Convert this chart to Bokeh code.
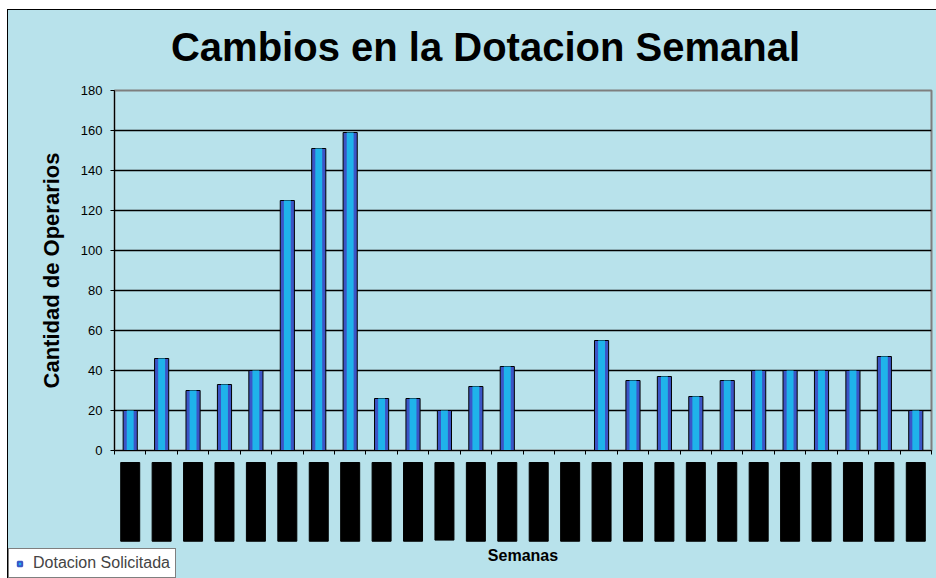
import numpy as np
from bokeh.plotting import figure
from bokeh.layouts import column, row
from bokeh.models import (ColumnDataSource, FixedTicker, Legend, LegendItem, Range1d)
from bokeh.core.properties import value
from bokeh.embed import file_html
from bokeh.resources import INLINE

# ---- data ----
titulo = "Cambios en la Dotacion Semanal"
semanas = [f"Semana {i:02d}" for i in range(1, 27)]
dotacion = [20, 46, 30, 33, 40, 125, 151, 159, 26, 26, 20, 32, 42,
            None, None, 55, 35, 37, 27, 35, 40, 40, 40, 40, 47, 20]
y_ticks = [0, 20, 40, 60, 80, 100, 120, 140, 160, 180]

FONT = "Liberation Sans"
BG = "#b8e2eb"

n = len(semanas)
xpos = np.arange(n) + 0.5
vals = np.array([np.nan if v is None else v for v in dotacion], dtype=float)
src = ColumnDataSource(dict(x=xpos, top=vals, lab=semanas))

W = 928
LEFT, RIGHT = 106, 5
FRAME_W = W - LEFT - RIGHT
TOP_PAD = 8
BOT_PAD = 10
H_TOP = 80 - TOP_PAD
H_MAIN = 360 + TOP_PAD + BOT_PAD
H_BOT = 578 - 10 - H_TOP - H_MAIN
LAB_GAP = 12 - BOT_PAD   # labels start 12 px below the zero line


def strip(height, x_range):
    f = figure(width=W, height=height, output_backend="svg", toolbar_location=None,
               title=None, x_range=x_range, y_range=Range1d(0, height),
               min_border_left=0, min_border_right=0, min_border_top=0,
               min_border_bottom=0)
    f.axis.visible = False
    f.grid.visible = False
    f.background_fill_color = BG
    f.border_fill_color = BG
    f.outline_line_color = None
    return f


# ---------------- title strip ----------------
t = strip(H_TOP, Range1d(0, W))
t.text(x=[477], y=[H_TOP - 36], text=[titulo], text_align="center",
       text_baseline="middle", text_font=value(FONT), text_font_size="40px",
       text_font_style="bold", text_color="#000000")

# ---------------- main chart ----------------
p = figure(width=W, height=H_MAIN, output_backend="svg", toolbar_location=None,
           title=None, x_range=Range1d(0, n), y_range=Range1d(0, 180),
           min_border_left=LEFT, min_border_right=RIGHT, min_border_top=TOP_PAD,
           min_border_bottom=BOT_PAD)
p.background_fill_color = BG
p.border_fill_color = BG
p.outline_line_color = "#7f7f7f"
p.outline_line_width = 2

outer = p.vbar(x="x", top="top", bottom=0, width=0.45, source=src,
               fill_color="#3b55c6", line_color="#000000", line_width=1)
p.vbar(x="x", top="top", bottom=0, width=0.22, source=src,
       fill_color="#1fb3ea", line_color=None)

p.xgrid.visible = False
p.ygrid.grid_line_color = "#000000"
p.ygrid.grid_line_width = 1.5
p.yaxis.ticker = FixedTicker(ticks=y_ticks)
p.xaxis.ticker = FixedTicker(ticks=list(range(n + 1)))
for ax in (p.xaxis[0], p.yaxis[0]):
    ax.axis_line_color = "#000000"
    ax.major_tick_line_color = "#000000"
    ax.minor_tick_line_color = None
    ax.major_tick_in = 0
    ax.major_tick_out = 4

p.yaxis.major_label_text_font = FONT
p.yaxis.major_label_text_font_size = "13px"
p.yaxis.major_label_text_color = "#000000"
p.yaxis.major_label_standoff = 8
p.yaxis.axis_label = "Cantidad de Operarios"
p.yaxis.axis_label_text_font = FONT
p.yaxis.axis_label_text_font_style = "bold"
p.yaxis.axis_label_text_color = "#000000"
p.yaxis.axis_label_text_font_size = "22px"
p.yaxis.axis_label_standoff = 14

p.xaxis.major_label_overrides = {i: "" for i in range(n + 1)}
p.xaxis.major_label_standoff = 0

# ---------------- week-label strip ----------------
px_per_unit = FRAME_W / n
q = strip(H_BOT, Range1d(-LEFT / px_per_unit, n + RIGHT / px_per_unit))

lab_src = ColumnDataSource(dict(x=xpos, y=np.full(n, H_BOT - LAB_GAP), lab=semanas))
q.text(x="x", y="y", text="lab", source=lab_src, angle=np.pi / 2,
       text_align="right", text_baseline="middle",
       text_font=value(FONT), text_font_size="15px", text_color="#000000",
       background_fill_color="#000000", border_line_color="#000000", padding=1)

q.text(x=[n / 2], y=[23], text=["Semanas"], text_align="center",
       text_baseline="middle", text_font=value(FONT), text_font_size="16px",
       text_font_style="bold", text_color="#000000")

dummy = q.scatter(x=[np.nan], y=[np.nan], marker="square", size=9,
                  fill_color="#1fb3ea", line_color="#3b55c6", line_width=2)
legend = Legend(items=[LegendItem(label="Dotacion Solicitada", renderers=[dummy])],
                location="bottom_left", orientation="horizontal",
                background_fill_color="#ffffff", background_fill_alpha=1,
                border_line_color="#000000", border_line_width=1,
                label_text_font=FONT, label_text_font_size="16px",
                glyph_width=11, glyph_height=11, padding=5, margin=0,
                label_standoff=8)
q.add_layout(legend, "center")

layout = column(row(t), row(p), row(q), spacing=0)
layout.margin = (10, 0, 0, 8)
layout.styles = {"outline": "1px solid #000000", "background-color": BG}

open("out.html", "w").write(file_html(layout, INLINE))
